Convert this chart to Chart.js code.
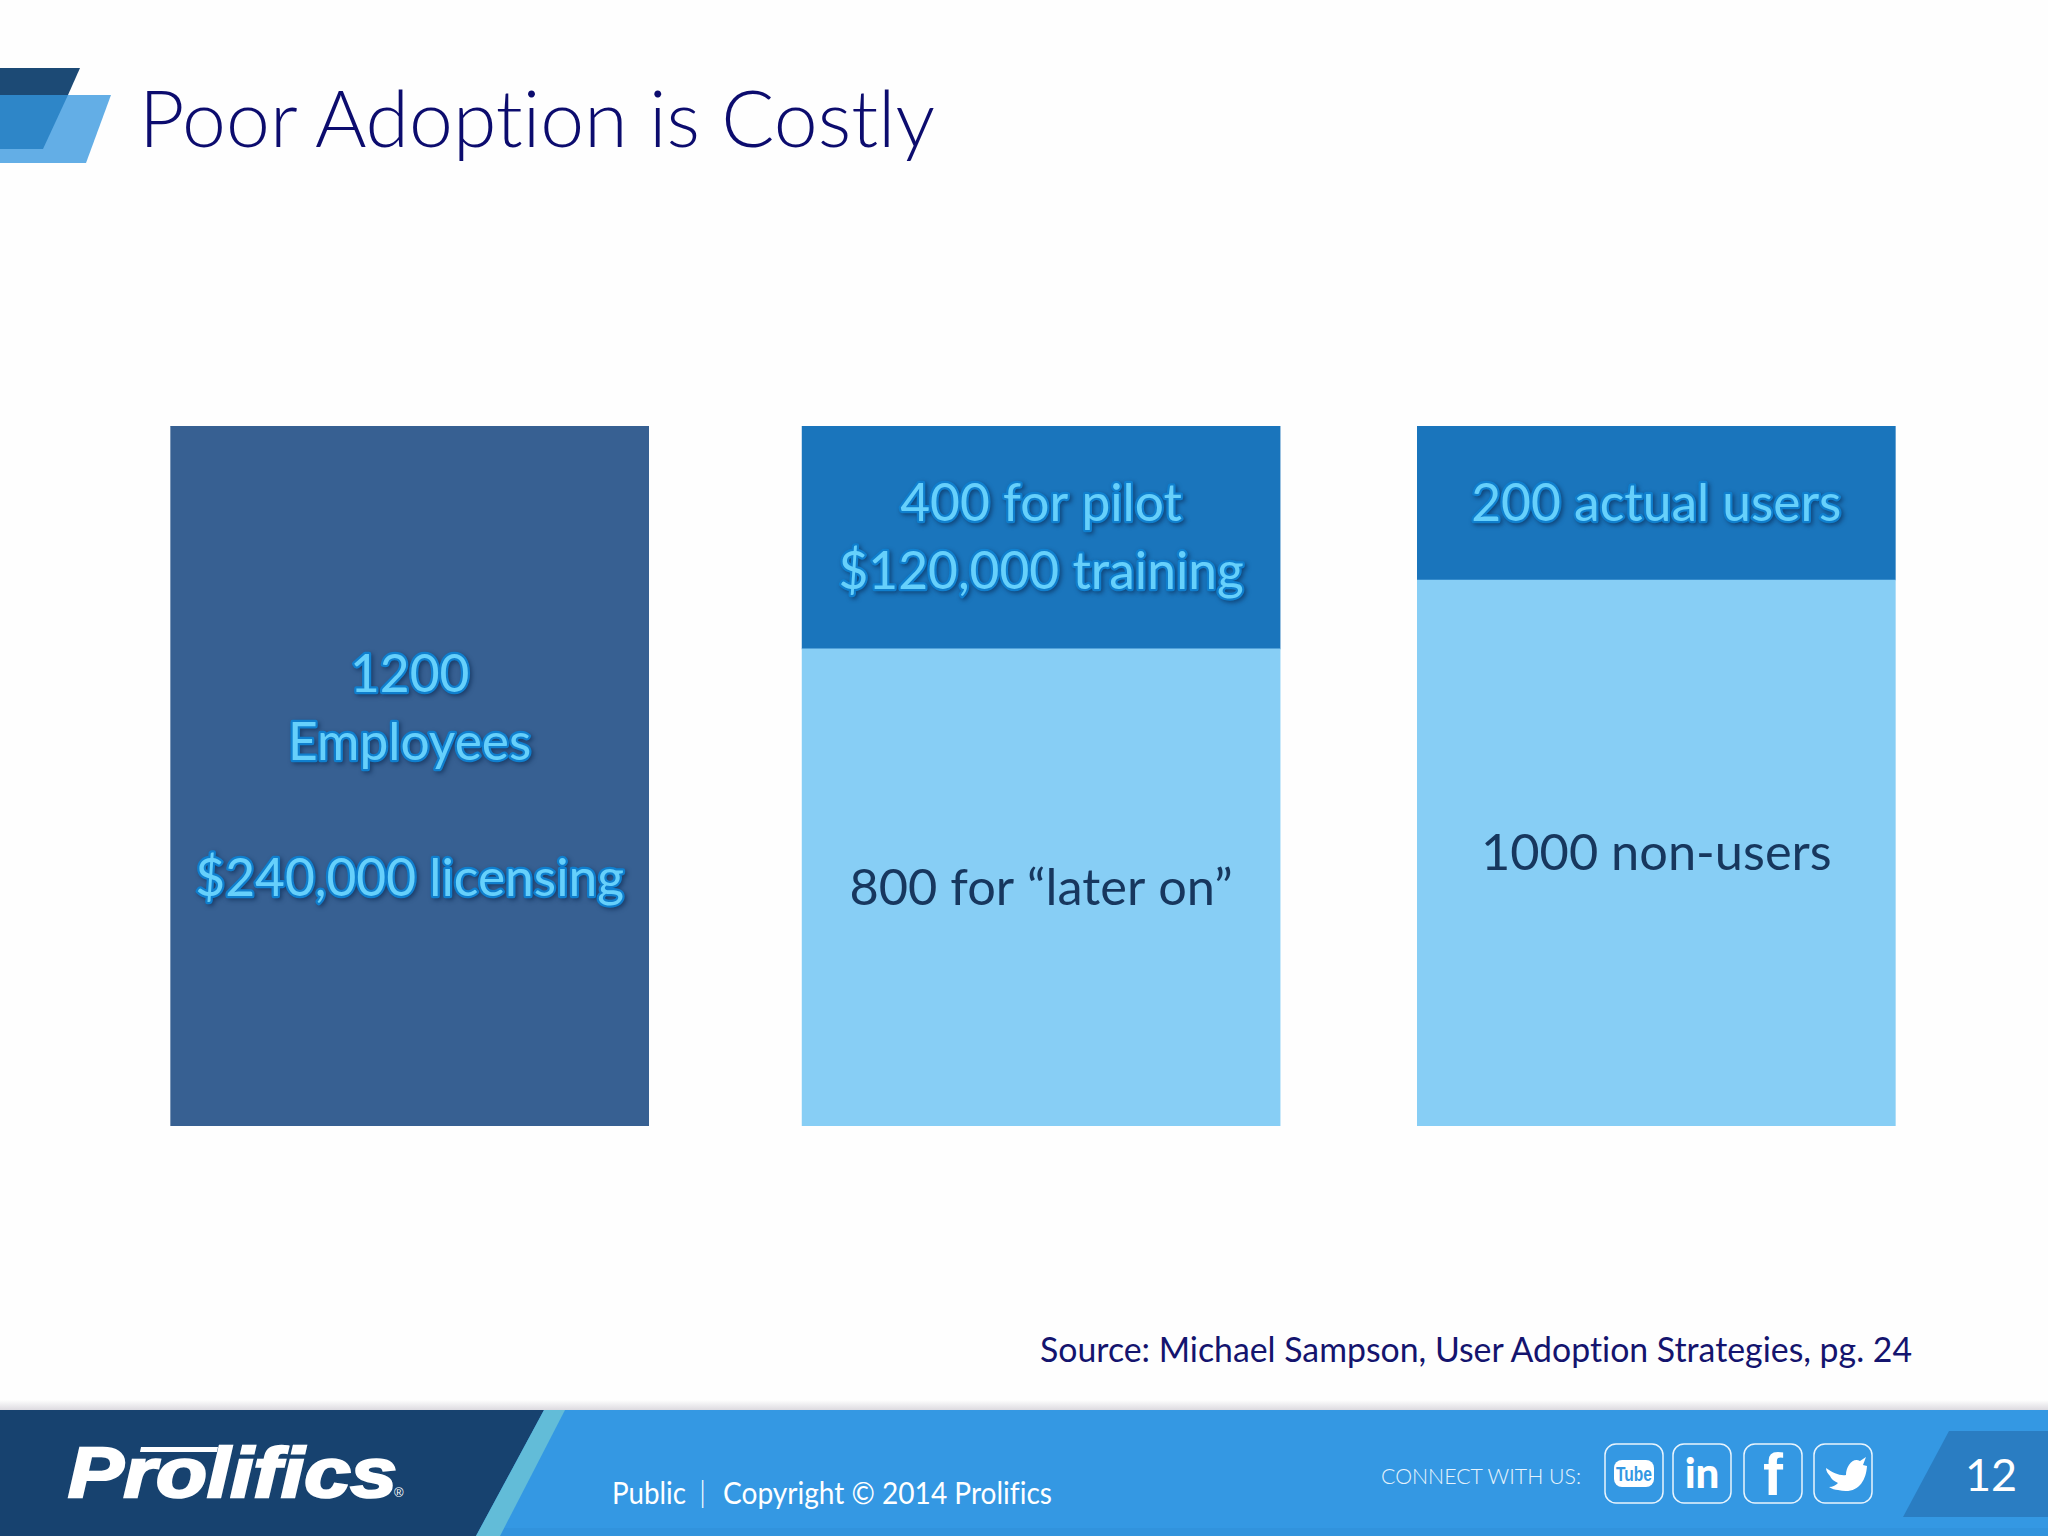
<!DOCTYPE html>
<html>
<head>
<meta charset="utf-8">
<title>Poor Adoption is Costly</title>
<script src="https://cdn.jsdelivr.net/npm/chart.js@4"></script>
<style>
    html, body { margin: 0; padding: 0; background: #fefefe; }
    #slide { position: relative; width: 2048px; height: 1536px; overflow: hidden; background: #fefefe; font-family: Lato, sans-serif; font-variant-ligatures: none; }
    #chartBox { position: absolute; left: 98px; top: 426px; width: 1870px; height: 700px; }
    #chrome { position: absolute; left: 0; top: 0; }
    #chrome text { font-variant-ligatures: none; }
</style>
</head>
<body>
<div id="slide">
    <svg id="chrome" width="2048" height="1536" viewBox="0 0 2048 1536">
        <defs>
            <linearGradient id="strip" x1="0" y1="0" x2="0" y2="1">
                <stop offset="0" stop-color="#fefefe"/>
                <stop offset="1" stop-color="#d9d7dd"/>
            </linearGradient>
        </defs>

        <!-- header logo shape -->
        <polygon points="0,68 80,68 68,95 0,95" fill="#1c4a75"/>
        <polygon points="0,95 111,95 86,163 0,163" fill="#63aee6"/>
        <polygon points="0,95 68,95 43,149 0,149" fill="#2e86c8"/>
        <text x="139" y="147" font-family="Lato" font-weight="300" font-size="78" fill="#0c0c6e" textLength="796" lengthAdjust="spacingAndGlyphs">Poor Adoption is Costly</text>

        <text x="1040" y="1362" font-family="Lato" font-size="34" fill="#14146e" textLength="872" lengthAdjust="spacingAndGlyphs">Source: Michael Sampson, User Adoption Strategies, pg. 24</text>

        <!-- footer -->
        <rect x="0" y="1400" width="2048" height="11" fill="url(#strip)"/>
        <rect x="0" y="1410" width="2048" height="126" fill="#3498e3"/>
        <rect x="0" y="1528" width="2048" height="8" fill="#3193dd"/>
        <polygon points="0,1410 544,1410 476,1536 0,1536" fill="#17426f"/>
        <polygon points="544,1410 565,1410 500,1536 476,1536" fill="#62bcd8"/>
        <text x="68" y="1497" font-family="Liberation Sans" font-weight="bold" font-style="italic" font-size="70" fill="#ffffff" stroke="#ffffff" stroke-width="2.5" textLength="329" lengthAdjust="spacingAndGlyphs">Prolifics</text>
        <polygon points="141,1447 218,1447 217,1452 140,1452" fill="#ffffff"/>
        <text x="394" y="1497" font-family="Liberation Sans" font-size="13" fill="#ffffff">®</text>
        <text x="612" y="1504" font-family="Lato" font-size="30" fill="#ffffff" textLength="74" lengthAdjust="spacingAndGlyphs">Public</text>
        <text x="699" y="1503" font-family="Lato" font-weight="300" font-size="30" fill="#ffffff">|</text>
        <text x="723" y="1504" font-family="Lato" font-size="30" fill="#ffffff" textLength="329" lengthAdjust="spacingAndGlyphs">Copyright © 2014 Prolifics</text>

        <text x="1381" y="1484" font-family="Lato" font-weight="300" font-size="22" fill="#e6f3fc" textLength="200" lengthAdjust="spacingAndGlyphs">CONNECT WITH US:</text>
        <g fill="none" stroke="#e8f4fd" stroke-width="1.5">
            <rect x="1605" y="1444" width="58" height="59" rx="11"/>
            <rect x="1673" y="1444" width="58" height="59" rx="11"/>
            <rect x="1744" y="1444" width="58" height="59" rx="11"/>
            <rect x="1814" y="1444" width="58" height="59" rx="11"/>
        </g>
        <rect x="1614" y="1460" width="40" height="27" rx="8" fill="#ffffff"/>
        <text x="1634" y="1481" text-anchor="middle" font-family="Liberation Sans Narrow, Liberation Sans" font-weight="bold" font-size="21" fill="#3498e3" textLength="36" lengthAdjust="spacingAndGlyphs">Tube</text>
        <text x="1702" y="1488" text-anchor="middle" font-family="Lato" font-weight="900" font-size="42" fill="#ffffff">in</text>
        <text x="1773" y="1495" text-anchor="middle" font-family="Liberation Sans" font-weight="bold" font-size="60" fill="#ffffff">f</text>
        <path d="M1826 1468 C1833 1473 1840 1476 1846 1475 C1846 1466 1853 1457 1860 1461 L1866 1457 L1863 1465 L1867 1466 C1866 1482 1857 1495 1838 1490 C1835 1490 1832 1489 1829 1487 C1833 1487 1836 1485 1838 1483 C1834 1481 1831 1479 1830 1476 C1828 1474 1826 1471 1826 1468 Z" fill="#ffffff"/>

        <polygon points="1949,1431 2048,1431 2048,1517 1903,1517" fill="#2a7dc2"/>
        <text x="1965" y="1491" font-family="Lato" font-size="45" fill="#ffffff">12</text>
    </svg>
    <div id="chartBox"><canvas id="adoptionChart" width="1870" height="700"></canvas></div>
</div>

<script>
// Vị trí ba cột trên trục x (cột giữa hơi lệch so với đều nhau)
const columnSlots = [1, 2.013, 3];

// Slide không vẽ đúng tỷ lệ nên giá trị đọc theo chiều cao khối trong hình
const lowerValues = [1200, 818, 936];
const upperValues = [0, 382, 264];

const lowerLabels = [
    ['1200', 'Employees', '', '$240,000 licensing'],
    ['800 for “later on”'],
    ['1000 non-users']
];
const upperLabels = [
    [],
    ['400 for pilot', '$120,000 training'],
    ['200 actual users']
];

const lowerColors = ['#376092', '#87cef5', '#87cef5'];
const upperColors = ['#376092', '#1a75bc', '#1a75bc'];

// Vẽ chữ ở giữa từng khối
const blockLabels = {
    id: 'blockLabels',
    afterDatasetsDraw(chart) {
        const ctx = chart.ctx;
        const lineHeight = 68;
        ctx.save();
        ctx.textAlign = 'center';
        ctx.textBaseline = 'middle';

        function drawBlock(datasetIndex, text, index, glow) {
            const center = chart.getDatasetMeta(datasetIndex).data[index].getCenterPoint();
            const startY = center.y + 1 - (text.length - 1) * lineHeight / 2;
            ctx.font = glow ? '51.5px Lato' : '50.5px Lato';
            text.forEach((line, i) => {
                const y = startY + i * lineHeight;
                if (glow) {
                    ctx.shadowColor = 'rgba(10, 40, 80, 0.6)';
                    ctx.shadowBlur = 4;
                    ctx.shadowOffsetX = 2;
                    ctx.shadowOffsetY = 2;
                    ctx.lineWidth = 4.5;
                    ctx.lineJoin = 'round';
                    ctx.strokeStyle = '#0f7fce';
                    ctx.strokeText(line, center.x, y);
                    ctx.shadowColor = 'transparent';
                    ctx.fillStyle = '#66d0fb';
                } else {
                    ctx.fillStyle = '#17375e';
                }
                ctx.fillText(line, center.x, y);
            });
        }

        lowerLabels.forEach((text, index) => drawBlock(0, text, index, index === 0));
        upperLabels.forEach((text, index) => drawBlock(1, text, index, true));
        ctx.restore();
    }
};

new Chart(document.getElementById('adoptionChart').getContext('2d'), {
    type: 'bar',
    data: {
        datasets: [
            {
                label: 'Lower',
                data: lowerValues.map((v, i) => ({ x: columnSlots[i], y: v })),
                backgroundColor: lowerColors,
                barThickness: 478,
                borderWidth: 0
            },
            {
                label: 'Upper',
                data: upperValues.map((v, i) => ({ x: columnSlots[i], y: v })),
                backgroundColor: upperColors,
                barThickness: 478,
                borderWidth: 0
            }
        ]
    },
    options: {
        responsive: false,
        devicePixelRatio: 1,
        animation: false,
        layout: { padding: 0 },
        scales: {
            x: { type: 'linear', stacked: true, offset: false, min: 0.5, max: 3.5, display: false },
            y: { stacked: true, min: 0, max: 1200, display: false }
        },
        plugins: {
            legend: { display: false },
            tooltip: { enabled: false }
        }
    },
    plugins: [blockLabels]
});
</script>
</body>
</html>
